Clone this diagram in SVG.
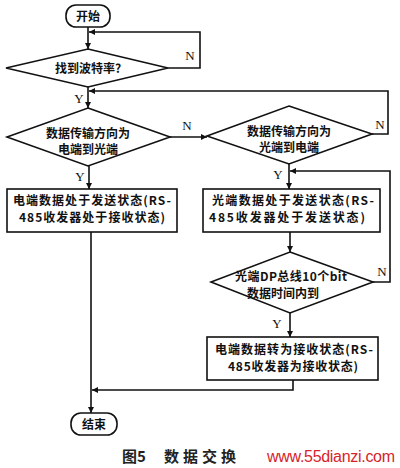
<svg xmlns="http://www.w3.org/2000/svg" width="400" height="468" viewBox="0 0 400 468">
<style>
.s{fill:#fff;stroke:#111;stroke-width:1.6}
.c{fill:none;stroke:#111;stroke-width:1.6}
.t{font-family:"Noto Sans CJK SC","Liberation Sans",sans-serif;font-size:12px;font-weight:bold;fill:#111;text-anchor:middle}
.l{font-family:"Liberation Serif",serif;font-size:13px;fill:#111;text-anchor:middle}
.cap{font-family:"Noto Sans CJK SC",serif;font-size:15px;font-weight:bold;fill:#222}
.wm{font-family:"Liberation Sans",sans-serif;font-size:16px;fill:#d8232a}
</style>
<defs>
<marker id="a" viewBox="0 0 10 10" refX="10" refY="5" markerWidth="7" markerHeight="6" markerUnits="userSpaceOnUse" orient="auto">
<path d="M0,0 L10,5 L0,10 z" fill="#111"/>
</marker>
</defs>
<rect width="400" height="468" fill="#fff"/>
<g id="connectors">
<path class="c" d="M88,27 V49" marker-end="url(#a)"/>
<path class="c" d="M168,68 H200 V32 H89" marker-end="url(#a)"/>
<path class="c" d="M88,87 V108" marker-end="url(#a)"/>
<path class="c" d="M372,134 H388 V91 H89" marker-end="url(#a)"/>
<path class="c" d="M170,137 H207" marker-end="url(#a)"/>
<path class="c" d="M89,166 V189" marker-end="url(#a)"/>
<path class="c" d="M289,164 V189" marker-end="url(#a)"/>
<path class="c" d="M373,282 H390 V171 H290" marker-end="url(#a)"/>
<path class="c" d="M290,232 V252" marker-end="url(#a)"/>
<path class="c" d="M290,313 V337" marker-end="url(#a)"/>
<path class="c" d="M91,232 V413" marker-end="url(#a)"/>
<path class="c" d="M293,380 V390 H92" marker-end="url(#a)"/>
<text class="l" x="190" y="60">N</text>
<text class="l" x="79" y="103">Y</text>
<text class="l" x="187" y="130">N</text>
<text class="l" x="380" y="129">N</text>
<text class="l" x="80" y="181">Y</text>
<text class="l" x="278" y="179">Y</text>
<text class="l" x="382" y="276">N</text>
<text class="l" x="277" y="328">Y</text>
</g>
<g id="start">
<rect class="s" x="66" y="5" width="44" height="22" rx="10"/>
<text class="t" x="88" y="21">开始</text>
</g>
<g id="d1">
<polygon class="s" points="88,49 168,68 88,87 6,68"/>
<text class="t" x="88" y="73">找到波特率?</text>
</g>
<g id="d2">
<polygon class="s" points="88,108 170,137 88,166 7,137"/>
<text class="t" x="88" y="137.5">数据传输方向为</text>
<text class="t" x="88" y="154">电端到光端</text>
</g>
<g id="d3">
<polygon class="s" points="289,106 372,134 289,164 207,136"/>
<text class="t" x="289" y="135.5">数据传输方向为</text>
<text class="t" x="289" y="152">光端到电端</text>
</g>
<g id="b1">
<rect class="s" x="7" y="189" width="170" height="43"/>
<text class="t" x="92" y="205" textLength="158">电端数据处于发送状态(RS-</text>
<text class="t" x="92" y="222" textLength="146">485收发器处于接收状态)</text>
</g>
<g id="b2">
<rect class="s" x="203" y="189" width="177" height="43"/>
<text class="t" x="293" y="205" textLength="162">光端数据处于发送状态(RS-</text>
<text class="t" x="287" y="222" textLength="156">485收发器处于发送状态)</text>
</g>
<g id="d4">
<polygon class="s" points="290,252 373,282 290,313 211,282"/>
<text class="t" x="291" y="281" textLength="112">光端DP总线10个bit</text>
<text class="t" x="283" y="297.5">数据时间内到</text>
</g>
<g id="b3">
<rect class="s" x="207" y="337" width="171" height="43"/>
<text class="t" x="294" y="354" textLength="158">电端数据转为接收状态(RS-</text>
<text class="t" x="293" y="371" textLength="130">485收发器为接收状态)</text>
</g>
<g id="end">
<rect class="s" x="71" y="413" width="46" height="22" rx="10"/>
<text class="t" x="94" y="429">结束</text>
</g>
<text class="cap" x="122" y="462">图5</text>
<text class="cap" x="164" y="462" letter-spacing="4">数据交换</text>
<text class="wm" x="267" y="462" textLength="128">www.55dianzi.com</text>
</svg>
